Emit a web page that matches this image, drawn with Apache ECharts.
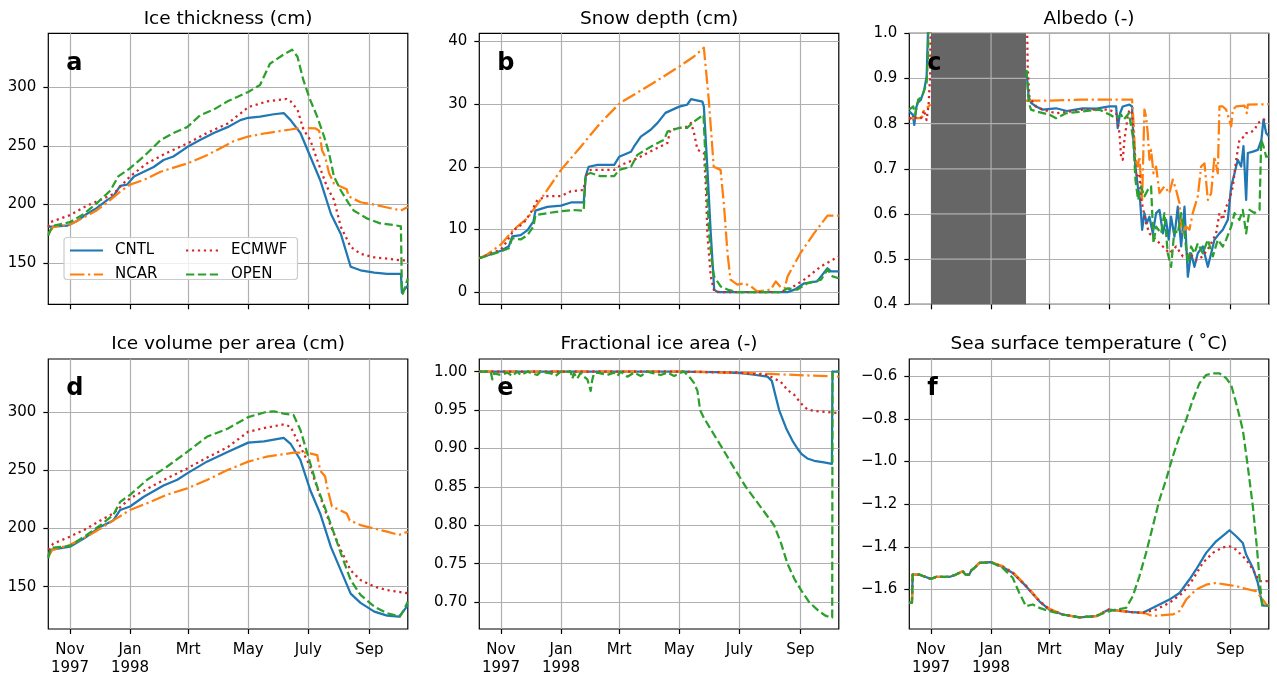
<!DOCTYPE html>
<html>
<head>
<meta charset="utf-8">
<script src="https://cdn.jsdelivr.net/npm/echarts@6/dist/echarts.min.js"></script>
<style>
html,body{margin:0;padding:0;background:#fff;}
#chart{width:1277px;height:677px;background:#fff;}
</style>
</head>
<body>
<div id="chart"></div>
<script>
// x values: days since 10 Oct 1997
const dayTicks = [22, 83, 142, 203, 264, 326];
const dayTickLabels = ['Nov\n1997', 'Jan\n1998', 'Mrt', 'May', 'July', 'Sep'];
const runs = ['CNTL', 'NCAR', 'ECMWF', 'OPEN'];

// (a) Ice thickness (cm)
const thickCNTL = [[0,181],[2,181],[19,182],[22,183],[29,186],[39,192],[49,197],[60,204],[66,207],[73,216],[80,217],[87,224],[97,228],[107,232],[117,238],[127,241],[141,249],[154,255],[168,261],[182,266],[195,272],[203,274],[215,275],[229,277],[239,278],[246,272],[256,261],[266,241],[276,221],[287,192],[297,175],[307,147],[317,144],[331,142],[344,141],[358,141],[359,125],[365,131]];
const thickNCAR = [[0,175],[5,181],[22,183],[36,189],[49,195],[63,204],[73,211],[83,217],[97,221],[114,228],[141,235],[161,242],[188,254],[203,258],[222,261],[246,264],[256,265.5],[271,265],[275,263],[278,246],[281,241],[285,227],[290,218],[303,213],[305,207],[317,202],[331,200],[344,197.5],[358,195],[365,198]];
const thickECMWF = [[0,181],[2,185],[22,191],[39,199],[53,204],[66,209],[83,224],[100,235],[120,244],[141,252],[161,261],[182,269],[203,283],[222,288],[242,290],[246,288],[253,281],[259,264],[266,255],[273,238],[283,215],[290,204],[297,181],[307,164],[317,158],[331,155],[344,154],[358,152.5],[365,152.5]];
const thickOPEN = [[0,173.5],[2,178],[5,182],[22,185],[36,192],[49,201],[63,212],[71,224],[83,231],[97,241],[114,255],[127,261],[141,266],[154,276],[168,281],[182,288],[203,296],[215,302],[225,320],[239,328],[247.5,332],[253,326],[259,306],[266,289],[273,275],[280,258],[285,244],[290,224],[297,212],[305,201],[310,195],[324,188],[337,184],[351,182.5],[358,181.5],[359,127],[360,124],[365,137]];

// (b) Snow depth (cm)
const snowCNTL = [[0,5.4],[22,6.6],[30,7.3],[33.5,8.9],[42,9.1],[49,9.9],[55,11.3],[57,13],[69,13.6],[83,13.8],[93,14.3],[106,14.3],[108,18.5],[111,20],[120,20.3],[137,20.3],[142,21.6],[154,22.4],[157,23.2],[164,24.8],[174,25.9],[181,27],[189,28.6],[203,29.6],[211,29.9],[215,30.8],[226.5,30.4],[228,29.6],[231.5,20],[235,9.4],[238.5,0.4],[242,0],[313,0],[320,0.4],[330,1.4],[343,1.7],[347,2.5],[353.5,3.8],[357,3.3],[365,3.3]];
const snowNCAR = [[0,5.4],[8,6],[22,7.6],[35,10],[49,11.8],[62,14.7],[83,19.5],[103,23.2],[123,27],[143,30.2],[157,31.5],[177,33.4],[203,36],[218,37.6],[228,39],[230,38.8],[233,30.7],[238,20],[245,19.5],[248.5,13.7],[252,6.2],[255,2],[262,1.2],[269,1.4],[276,0.9],[282,0.1],[296,0.4],[301,1.7],[306,0.8],[310,0.6],[313,2.5],[326,6.2],[340,9.4],[353.5,12.2],[365,12.2]];
const snowECMWF = [[0,5.4],[22,6.8],[28,8.1],[35,9.9],[45,11],[52,12.6],[59,14.7],[69,15.3],[83,15.3],[93,16.1],[106,16.3],[108,18.5],[113,19.5],[137,19.5],[144,20.3],[157,21.1],[177,22.7],[191,23.8],[194,25.9],[211,26.4],[215,27],[218,25.4],[221.5,22.7],[228,22.2],[230,16.9],[231.5,9.4],[235,2.5],[238.5,0.1],[245,0],[306,0],[316,0.6],[330,2],[347,4.1],[365,5.7]];
const snowOPEN = [[0,5.4],[22,6.5],[30,7],[33.5,8.6],[42,8.4],[49,9.1],[55,10.5],[57,12.3],[69,12.6],[83,12.9],[96,13.1],[106,13],[108,18.7],[113,19],[123,18.5],[137,18.5],[142,19.5],[154,20],[160.5,21.9],[174,23.2],[187.6,24.3],[191,25.6],[203,26.2],[211,26.2],[218,27.2],[227.6,28.3],[230,20],[233.3,9.4],[236.7,4.1],[238.4,2.5],[245,0.9],[252,0.4],[262,0],[306,0],[313,0.6],[323,0.4],[333,1.4],[347,2],[353.5,3.6],[358.6,2.5],[365,2.2]];

// (c) Albedo (-), null = polar night
const albedoCNTL = [[0,0.827],[1.7,0.831],[3.5,0.82],[5.1,0.797],[7,0.835],[8.5,0.846],[11.8,0.853],[15.2,0.875],[17.6,0.905],[19.6,1.05],[21,1.1],[60,null],[119,0.916],[121.2,0.86],[123.6,0.846],[128.7,0.838],[135.4,0.831],[149,0.834],[160,0.828],[176,0.834],[190,0.833],[203,0.838],[210,0.838],[211.6,0.79],[214,0.823],[216.7,0.838],[223.5,0.842],[226.2,0.838],[227.5,0.764],[229.6,0.705],[232,0.661],[234.3,0.631],[236.4,0.565],[238.7,0.602],[241.1,0.579],[243.8,0.594],[247.2,0.557],[250.6,0.602],[254,0.609],[257.4,0.557],[260.7,0.587],[263.4,0.543],[265.8,0.594],[269.2,0.55],[272.6,0.616],[276,0.528],[279.4,0.616],[282.8,0.461],[286.1,0.513],[289.5,0.483],[292.9,0.513],[298,0.528],[303.1,0.483],[306.5,0.513],[309.8,0.543],[314.9,0.557],[318.3,0.565],[323.4,0.587],[326.8,0.661],[330.2,0.69],[333.5,0.72],[336.9,0.705],[339.3,0.75],[342,0.631],[343.7,0.735],[348.8,0.738],[353.9,0.742],[357.5,0.764],[359.6,0.809],[362.3,0.779],[365,0.772]];
const albedoNCAR = [[0,0.812],[5,0.812],[10,0.812],[13,0.815],[15,0.831],[18,0.835],[21.8,0.843],[60,null],[118.5,0.851],[140,0.851],[176,0.853],[203,0.853],[226.2,0.853],[227.5,0.809],[229.6,0.72],[232,0.705],[233.6,0.727],[236.4,0.631],[238.7,0.831],[240.4,0.816],[242.1,0.779],[243.8,0.72],[245.5,0.742],[247.9,0.69],[250.6,0.705],[254,0.646],[259,0.661],[264.1,0.646],[267.5,0.676],[270.9,0.653],[274.3,0.624],[276,0.572],[277.7,0.557],[281.1,0.572],[284.4,0.565],[287.8,0.602],[292.9,0.639],[296.3,0.705],[299.7,0.712],[303.1,0.631],[306.5,0.646],[309.8,0.727],[313.2,0.69],[314.9,0.838],[318.3,0.838],[321.7,0.831],[326.8,0.794],[328.5,0.831],[331.9,0.838],[340.3,0.84],[342.7,0.823],[343.7,0.842],[365,0.843]];
const albedoECMWF = [[0,0.81],[3,0.815],[8,0.812],[12,0.812],[15,0.83],[17.5,0.808],[19.5,0.84],[21,0.9],[22,1.1],[60,null],[119,1.1],[120.2,0.927],[121.9,0.86],[123.6,0.853],[128.7,0.838],[135.4,0.831],[149,0.823],[160,0.826],[176,0.831],[203,0.831],[210,0.823],[213.4,0.779],[215,0.727],[216.7,0.72],[218.4,0.764],[221.8,0.816],[223.5,0.831],[226.2,0.823],[228.6,0.742],[230.3,0.683],[233.6,0.69],[235.3,0.631],[237,0.616],[240.4,0.579],[243.8,0.557],[250.6,0.543],[257.4,0.528],[264.1,0.513],[270.9,0.528],[277.7,0.506],[284.4,0.513],[291.2,0.498],[298,0.506],[304.8,0.528],[311.5,0.557],[314.9,0.602],[318.3,0.587],[321.7,0.616],[325.1,0.631],[328.5,0.661],[331.9,0.72],[335.2,0.764],[340.3,0.772],[342,0.779],[345.4,0.779],[350.5,0.786],[353.9,0.801],[358.9,0.809],[365,0.809]];
const albedoOPEN = [[0,0.831],[2,0.835],[4,0.838],[6,0.82],[9,0.853],[13,0.86],[17.6,0.89],[19,0.95],[20,1.1],[60,null],[119,0.919],[121.2,0.846],[123.6,0.831],[128.7,0.827],[142.2,0.82],[149,0.812],[159.1,0.823],[176.1,0.827],[193,0.831],[203.2,0.82],[210,0.812],[215,0.82],[217.8,0.809],[223,0.823],[227.5,0.764],[229.6,0.676],[232.3,0.631],[235.3,0.661],[238.7,0.639],[242.1,0.653],[245.5,0.661],[247.9,0.535],[250.6,0.572],[255.7,0.557],[259,0.602],[262.4,0.513],[265.8,0.483],[269.2,0.565],[272.6,0.557],[276,0.602],[279.4,0.557],[282.8,0.491],[286.1,0.528],[289.5,0.513],[292.9,0.535],[298,0.513],[303.1,0.543],[308.2,0.506],[313.2,0.543],[318.3,0.528],[321.7,0.543],[326.8,0.572],[330.2,0.602],[335.2,0.587],[338.6,0.609],[342,0.557],[345.4,0.609],[350.5,0.602],[355.6,0.609],[357.3,0.764],[359.6,0.75],[362.3,0.727],[365,0.727]];
const polarNight = [[22, 118.5]];

// (d) Ice volume per area (cm)
const volCNTL = [[0,176],[2,181.6],[22,184.4],[39,193],[53,201.6],[66,207],[73,216],[83,219],[97,227.4],[117,237],[131,242],[141,247.5],[161,257.6],[182,266],[203,274],[219,275],[239,278],[246,273],[256,259],[266,233],[276,213],[287,184],[297,164],[307,144],[317,136],[331,128.5],[344,125],[356,124.2],[359,127],[365,134]];
const volNCAR = [[0,175.8],[4,181.6],[22,186],[39,193],[53,200],[66,207],[83,216],[100,221.7],[120,229],[141,234.6],[161,241.8],[182,250.4],[203,257.6],[222,262],[249,265.3],[263,265.3],[273,263.3],[276,250],[281,245],[283,236],[288,219],[303,213],[306,207],[317,203],[331,200],[344,197.3],[356,194.5],[365,197.3]];
const volECMWF = [[0,181.6],[5,187],[22,193],[39,200],[53,207],[66,213],[83,226],[100,234],[120,243],[141,251.8],[161,261],[182,270],[203,283.4],[222,287],[239,289.7],[246,287.7],[256,270.5],[266,253],[276,227.4],[287,201.6],[297,181.6],[307,164],[317,155.7],[331,150],[344,147],[365,144.3]];
const volOPEN = [[0,174.4],[2,181.6],[5,183.6],[22,185],[39,194.5],[53,203],[66,211.7],[73,223],[83,229],[100,241.8],[120,253],[141,266],[161,279],[182,286],[203,296],[222,300.6],[229,301],[239,299],[249,297.7],[256,284.8],[263,264.7],[273,236],[283,213],[290,196],[297,178.7],[307,155.7],[317,142.8],[331,132.8],[344,127],[357,124.2],[361,130],[365,137]];

// (e) Fractional ice area (-)
const fracCNTL = [[0,1.0],[100,1.0],[203,1.0],[240,0.9995],[265.5,0.998],[279,0.996],[292.6,0.9935],[297,0.988],[304.4,0.95],[312,0.925],[318,0.91],[323,0.9],[327,0.893],[333,0.887],[340,0.884],[350,0.882],[358,0.88],[358.6,1.0],[365,1.0]];
const fracNCAR = [[0,1.0],[203,1.0],[262,0.9987],[296,0.997],[330,0.9952],[365,0.9935]];
const fracECMWF = [[0,1.0],[203,1.0],[260,0.999],[292.6,0.9957],[306,0.987],[312.9,0.976],[319.7,0.97],[326.4,0.959],[333,0.951],[340,0.949],[365,0.946]];
const fracOPEN = [[0,1.0],[11.5,1.0],[13.2,0.99],[14.9,0.9978],[21.7,0.9957],[28.4,0.9987],[33.5,0.9944],[38.6,1.0],[42,0.9957],[48.8,1.0],[58.9,0.9957],[62.3,1.0],[72.5,0.9978],[77.5,0.9944],[82.6,1.0],[92.8,1.0],[94.5,0.991],[96.2,0.9978],[99.5,0.991],[102.9,0.9987],[106.3,0.9935],[109.7,0.99],[113.1,0.975],[114.8,0.99],[116.5,0.9978],[119.9,0.9987],[130,0.9957],[136.8,0.9987],[140.2,0.9944],[143.6,1.0],[150.3,0.9935],[157.1,0.9987],[163.9,0.9944],[170.7,1.0],[177.4,0.9978],[184.2,0.9957],[191,0.9987],[197.8,0.9944],[204.5,0.9987],[207.9,1.0],[211.3,0.9957],[214.7,0.991],[218.1,0.985],[221.5,0.975],[224.2,0.95],[228,0.94],[235,0.925],[246.9,0.9],[258,0.876],[270.6,0.85],[285,0.825],[299.3,0.8],[306,0.778],[312.9,0.75],[320,0.73],[327,0.715],[334.9,0.7],[345,0.688],[352,0.682],[358.3,0.68],[358.6,1.0],[365,1.0]];

// (f) Sea surface temperature (deg C)
const sstCNTL = [[0,-1.662],[2.7,-1.662],[3.4,-1.53],[10.1,-1.53],[16,-1.54],[22,-1.55],[27.1,-1.541],[40.6,-1.541],[47.4,-1.53],[54.2,-1.514],[57,-1.53],[60.9,-1.53],[63,-1.51],[66,-1.499],[71.1,-1.475],[83,-1.472],[94.8,-1.494],[105,-1.522],[118.5,-1.584],[132.1,-1.655],[142.2,-1.694],[155.8,-1.717],[172.7,-1.73],[189.6,-1.725],[202.5,-1.694],[210,-1.698],[223.5,-1.705],[237,-1.709],[243.8,-1.694],[254,-1.67],[264.1,-1.647],[274.3,-1.616],[284.4,-1.553],[291.2,-1.506],[301.4,-1.428],[311.5,-1.374],[321.7,-1.335],[325.1,-1.322],[331.9,-1.35],[338.6,-1.382],[342,-1.436],[348.8,-1.499],[353.9,-1.569],[357.3,-1.647],[359,-1.675],[365,-1.675]];
const sstNCAR = [[0,-1.662],[2.7,-1.662],[3.4,-1.53],[10.1,-1.53],[16,-1.54],[22,-1.55],[27.1,-1.541],[40.6,-1.541],[47.4,-1.53],[54.2,-1.514],[57,-1.53],[60.9,-1.53],[63,-1.51],[66,-1.499],[71.1,-1.475],[83,-1.472],[94.8,-1.49],[105,-1.518],[118.5,-1.58],[132.1,-1.652],[142.2,-1.69],[155.8,-1.717],[172.7,-1.73],[189.6,-1.725],[202.5,-1.694],[210,-1.698],[223.5,-1.705],[240.4,-1.712],[247.2,-1.725],[257.4,-1.72],[267.5,-1.717],[274.3,-1.701],[281.1,-1.647],[291.2,-1.6],[301.4,-1.577],[311.5,-1.569],[321.7,-1.577],[331.9,-1.584],[342,-1.597],[352.2,-1.608],[359,-1.647],[362.3,-1.67],[365,-1.675]];
const sstECMWF = [[0,-1.662],[2.7,-1.662],[3.4,-1.53],[10.1,-1.53],[16,-1.54],[22,-1.55],[27.1,-1.541],[40.6,-1.541],[47.4,-1.53],[54.2,-1.514],[57,-1.53],[60.9,-1.53],[63,-1.51],[66,-1.499],[71.1,-1.475],[83,-1.472],[94.8,-1.494],[105,-1.522],[118.5,-1.584],[132.1,-1.655],[142.2,-1.694],[155.8,-1.717],[172.7,-1.73],[189.6,-1.725],[202.5,-1.694],[210,-1.698],[223.5,-1.705],[237,-1.709],[250.6,-1.694],[264.1,-1.662],[277.7,-1.616],[287.8,-1.553],[298,-1.475],[308.2,-1.428],[318.3,-1.402],[325.1,-1.397],[331.9,-1.413],[342,-1.46],[348.8,-1.506],[355.6,-1.561],[365,-1.561]];
const sstOPEN = [[0,-1.662],[2.7,-1.662],[3.4,-1.53],[10.1,-1.53],[16,-1.54],[22,-1.55],[27.1,-1.541],[40.6,-1.541],[47.4,-1.53],[54.2,-1.514],[57,-1.53],[60.9,-1.53],[63,-1.51],[66,-1.499],[71.1,-1.475],[83,-1.472],[94.8,-1.499],[105,-1.545],[111.7,-1.616],[118.5,-1.678],[125.3,-1.67],[132.1,-1.686],[142.2,-1.701],[155.8,-1.717],[172.7,-1.73],[189.6,-1.725],[202.5,-1.702],[210,-1.694],[220.1,-1.686],[226.9,-1.631],[233.6,-1.538],[240.4,-1.428],[247.2,-1.304],[254,-1.179],[260.7,-1.085],[267.5,-0.976],[274.3,-0.882],[281.1,-0.804],[287.8,-0.711],[294.6,-0.633],[301.4,-0.594],[308.2,-0.586],[314.9,-0.586],[321.7,-0.609],[326.8,-0.641],[331.9,-0.726],[338.6,-0.851],[343.7,-1.023],[348.8,-1.21],[352.8,-1.397],[356.3,-1.584],[358.3,-1.675],[365,-1.675]];

const panelTitles = ['Ice thickness (cm)', 'Snow depth (cm)', 'Albedo (-)', 'Ice volume per area (cm)', 'Fractional ice area (-)', 'Sea surface temperature (\u2009\u02DAC)'];
const panelLetters = ['a', 'b', 'c', 'd', 'e', 'f'];
const yTicks = [
  [150, 200, 250, 300],
  [0, 10, 20, 30, 40],
  [0.4, 0.5, 0.6, 0.7, 0.8, 0.9, 1.0],
  [150, 200, 250, 300],
  [0.70, 0.75, 0.80, 0.85, 0.90, 0.95, 1.00],
  [-1.6, -1.4, -1.2, -1.0, -0.8, -0.6]
];
const yRanges = [[115, 346], [-1.95, 41.3], [0.4, 1.0], [113.5, 346], [0.665, 1.0165], [-1.785, -0.519]];
const panelData = [
  [thickCNTL, thickNCAR, thickECMWF, thickOPEN],
  [snowCNTL, snowNCAR, snowECMWF, snowOPEN],
  [albedoCNTL, albedoNCAR, albedoECMWF, albedoOPEN],
  [volCNTL, volNCAR, volECMWF, volOPEN],
  [fracCNTL, fracNCAR, fracECMWF, fracOPEN],
  [sstCNTL, sstNCAR, sstECMWF, sstOPEN]
];

// ---------- styling / layout ----------
const FONT = '"DejaVu Sans", "Liberation Sans", sans-serif';
const LW = 2.25;
const GRID_COLOR = '#b0b0b0';
const runStyle = {
  CNTL:  {color: '#1f77b4', type: 'solid'},
  NCAR:  {color: '#ff7f0e', type: [14.4, 3.6, 2.25, 3.6]},
  ECMWF: {color: '#d62728', type: [2.25, 3.7]},
  OPEN:  {color: '#2ca02c', type: [8.3, 3.6]}
};
const gridLefts = [48.3, 479.3, 909.3];
const gridTops = [33.3, 359];
const gridW = 359.5, gridHs = [271, 270.3];
const yFormatters = [
  v => String(Math.round(v)),
  v => String(Math.round(v)),
  v => v.toFixed(1),
  v => String(Math.round(v)),
  v => v.toFixed(2),
  v => (v < 0 ? '\u2212' : '') + Math.abs(v).toFixed(1)
];

const grids = [], xAxes = [], yAxes = [], series = [], graphics = [];
for (let i = 0; i < 6; i++) {
  const col = i % 3, row = Math.floor(i / 3);
  const left = gridLefts[col], top = gridTops[row], h = gridHs[row];
  grids.push({left: left, top: top, width: gridW, height: h, show: true,
    borderColor: '#000', borderWidth: 1.2, backgroundColor: 'transparent', containLabel: false});
  xAxes.push({
    type: 'value', gridIndex: i, min: 0, max: 365,
    axisLine: {show: false, onZero: false},
    axisTick: {show: true, customValues: dayTicks, length: 5, lineStyle: {color: '#000', width: 1.2}},
    axisLabel: {show: row === 1, customValues: dayTicks, margin: 12,
      formatter: v => dayTickLabels[dayTicks.indexOf(v)] || '',
      color: '#000', fontSize: 15, lineHeight: 18, fontFamily: FONT},
    splitLine: {show: true, lineStyle: {color: GRID_COLOR, width: 1.2}}
  });
  yAxes.push({
    type: 'value', gridIndex: i, min: yRanges[i][0], max: yRanges[i][1],
    axisLine: {show: false, onZero: false},
    axisTick: {show: true, customValues: yTicks[i], length: 5, lineStyle: {color: '#000', width: 1.2}},
    axisLabel: {show: true, customValues: yTicks[i], margin: 12, formatter: yFormatters[i],
      color: '#000', fontSize: 15, fontFamily: FONT},
    splitLine: {show: true, lineStyle: {color: GRID_COLOR, width: 1.2}}
  });
  runs.forEach((r, k) => {
    series.push({
      name: r, type: 'line', xAxisIndex: i, yAxisIndex: i, z: 3,
      data: panelData[i][k], showSymbol: false, symbol: 'none',
      clip: true, connectNulls: false, animation: false, silent: true,
      lineStyle: {color: runStyle[r].color, width: LW, type: runStyle[r].type, cap: 'butt', join: 'round'},
      itemStyle: {color: 'rgba(0,0,0,0)'}
    });
  });
  graphics.push({
    type: 'text', x: left + gridW / 2, y: top - 14.5, silent: true,
    style: {text: panelTitles[i], font: '18.5px ' + FONT, fill: '#000',
      textAlign: 'center', textVerticalAlign: 'middle'}
  });
  graphics.push({
    type: 'text', x: left + 18, y: top + 30, z: 100, silent: true,
    style: {text: panelLetters[i], font: 'bold 24px ' + FONT, fill: '#000',
      textAlign: 'left', textVerticalAlign: 'middle'}
  });
}
// polar night shading in albedo panel; the axis grid lines crossing it are redrawn on top
const yC = yRanges[2];
const yTicksC = yTicks[2].filter(v => v > yC[0] && v < yC[1]);
series.push({
  type: 'custom', xAxisIndex: 2, yAxisIndex: 2, data: polarNight, z: 1, silent: true, animation: false,
  encode: {x: [0, 1]},
  renderItem: function (params, api) {
    const x0 = api.value(0), x1 = api.value(1);
    const p0 = api.coord([x0, yC[1]]);
    const p1 = api.coord([x1, yC[0]]);
    const children = [{type: 'rect', shape: {x: p0[0], y: p0[1], width: p1[0] - p0[0], height: p1[1] - p0[1]},
      style: {fill: '#666666'}}];
    dayTicks.filter(d => d > x0 && d < x1).forEach(d => {
      const a = api.coord([d, yC[1]]), b = api.coord([d, yC[0]]);
      children.push({type: 'line', shape: {x1: a[0], y1: a[1], x2: b[0], y2: b[1]},
        style: {stroke: GRID_COLOR, lineWidth: 1.2}});
    });
    yTicksC.forEach(v => {
      const a = api.coord([x0, v]), b = api.coord([x1, v]);
      children.push({type: 'line', shape: {x1: a[0], y1: a[1], x2: b[0], y2: b[1]},
        style: {stroke: GRID_COLOR, lineWidth: 1.2}});
    });
    return {type: 'group', children: children};
  }
});
// legend frame
graphics.push({
  type: 'rect', z: 10, silent: true,
  shape: {x: 64, y: 237.5, width: 233.5, height: 42, r: 3},
  style: {fill: 'rgba(255,255,255,0.8)', stroke: '#cccccc', lineWidth: 1.2}
});

const legendCommon = {
  orient: 'vertical', top: 243, itemWidth: 33, itemHeight: 16, itemGap: 9, padding: 0,
  z: 20, selectedMode: false,
  itemStyle: {opacity: 0},
  textStyle: {fontSize: 15, fontFamily: FONT, color: '#000', padding: [0, 0, 0, 7]}
};

const chart = echarts.init(document.getElementById('chart'), null, {renderer: 'canvas'});
chart.setOption({
  animation: false,
  backgroundColor: '#fff',
  textStyle: {fontFamily: FONT},
  grid: grids, xAxis: xAxes, yAxis: yAxes, series: series,
  legend: [
    Object.assign({}, legendCommon, {left: 69, data: ['CNTL', 'NCAR']}),
    Object.assign({}, legendCommon, {left: 185, data: ['ECMWF', 'OPEN']})
  ],
  graphic: graphics
});
</script>
</body>
</html>
